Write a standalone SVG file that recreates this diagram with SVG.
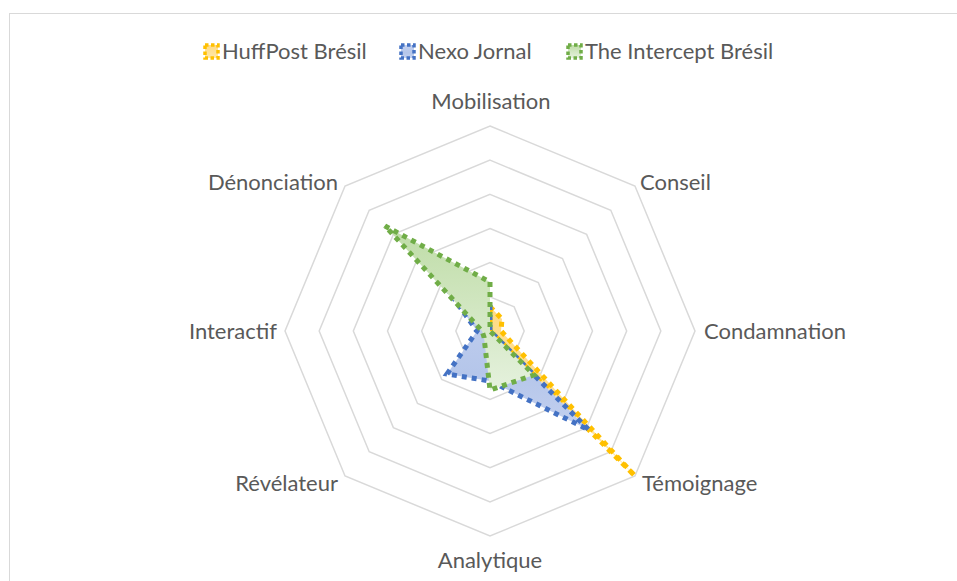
<svg xmlns="http://www.w3.org/2000/svg" width="957" height="581" viewBox="0 0 957 581">
  <defs>
    <linearGradient id="gGreen" x1="0" y1="0" x2="0" y2="1">
      <stop offset="0" stop-color="#bedca6"/>
      <stop offset="1" stop-color="#e5f1dd"/>
    </linearGradient>
    <linearGradient id="gBlue" x1="0" y1="0" x2="0" y2="1">
      <stop offset="0" stop-color="#c4d1f0"/>
      <stop offset="0.6" stop-color="#b5c6ea"/>
      <stop offset="1" stop-color="#c3d0ef"/>
    </linearGradient>
    <linearGradient id="gYellow" x1="0" y1="0" x2="0" y2="1">
      <stop offset="0" stop-color="#ffdb85"/>
      <stop offset="1" stop-color="#ffe7a8"/>
    </linearGradient>
  </defs>
  <style>
    .bg { fill: #ffffff; }
    .frame { fill: none; stroke: #d9d9d9; stroke-width: 1; }
    .ring { fill: none; stroke: #d9d9d9; stroke-width: 1.5; stroke-linejoin: miter; }
    .lbl { font-family: Lato, "Liberation Sans", sans-serif; font-size: 22px; fill: #595959; }
    .series { stroke-width: 5; stroke-dasharray: 5 5; stroke-linejoin: miter; stroke-linecap: butt; }
    .huff { fill: url(#gYellow); stroke: #ffc000; }
    .nexo { fill: url(#gBlue); stroke: #4472c4; }
    .inter { fill: url(#gGreen); stroke: #70ad47; }
    .mk { stroke-width: 3.5; stroke-dasharray: 3.5 2.5; }
  </style>

  <rect class="bg" x="0" y="0" width="957" height="581"/>
  <rect class="frame" x="9.5" y="13.5" width="1000" height="620"/>

  <g id="grid">
    <polygon class="ring" points="490,296.83 514.16,306.84 524.17,331 514.16,355.16 490,365.17 465.84,355.16 455.83,331 465.84,306.84"/>
    <polygon class="ring" points="490,262.67 538.32,282.68 558.33,331 538.32,379.32 490,399.33 441.68,379.32 421.67,331 441.68,282.68"/>
    <polygon class="ring" points="490,228.5 562.48,258.52 592.5,331 562.48,403.48 490,433.5 417.52,403.48 387.5,331 417.52,258.52"/>
    <polygon class="ring" points="490,194.33 586.64,234.36 626.67,331 586.64,427.64 490,467.67 393.36,427.64 353.33,331 393.36,234.36"/>
    <polygon class="ring" points="490,160.17 610.8,210.2 660.83,331 610.8,451.8 490,501.83 369.2,451.8 319.17,331 369.2,210.2"/>
    <polygon class="ring" points="490,126 634.96,186.04 695,331 634.96,475.96 490,536 345.04,475.96 285,331 345.04,186.04"/>
  </g>

  <g id="axis-labels">
    <text id="lbl-mobilisation" class="lbl" x="491" y="109" text-anchor="middle">Mobilisation</text>
    <text id="lbl-conseil" class="lbl" x="640" y="190">Conseil</text>
    <text id="lbl-condamnation" class="lbl" x="704" y="339">Condamnation</text>
    <text id="lbl-temoignage" class="lbl" x="642" y="491">Témoignage</text>
    <text id="lbl-analytique" class="lbl" x="490" y="568" text-anchor="middle">Analytique</text>
    <text id="lbl-revelateur" class="lbl" x="338" y="491" text-anchor="end">Révélateur</text>
    <text id="lbl-interactif" class="lbl" x="277" y="339" text-anchor="end">Interactif</text>
    <text id="lbl-denonciation" class="lbl" x="338" y="190" text-anchor="end">Dénonciation</text>
  </g>

  <g id="series">
    <polygon id="s-huffpost" class="series huff" points="490,306.7 502,319 501,331 635,476 490,331 490,331 490,331 490,331"/>
    <polygon id="s-nexo" class="series nexo" points="490,305 490,331 490,331 589,430 490,381 447,374 477,331 445,286"/>
    <polygon id="s-intercept" class="series inter" points="490,282 490,331 490,331 534,375 490,390 484,337 482,331 385,226"/>
  </g>

  <g id="legend">
    <g id="leg-huffpost">
      <rect class="mk huff" x="205" y="45" width="13" height="13"/>
      <text class="lbl" x="222" y="59">HuffPost Brésil</text>
    </g>
    <g id="leg-nexo">
      <rect class="mk nexo" x="401" y="45" width="13" height="13"/>
      <text class="lbl" x="418" y="59">Nexo Jornal</text>
    </g>
    <g id="leg-intercept">
      <rect class="mk inter" x="568" y="45" width="13" height="13"/>
      <text class="lbl" x="585" y="59">The Intercept Brésil</text>
    </g>
  </g>
</svg>
